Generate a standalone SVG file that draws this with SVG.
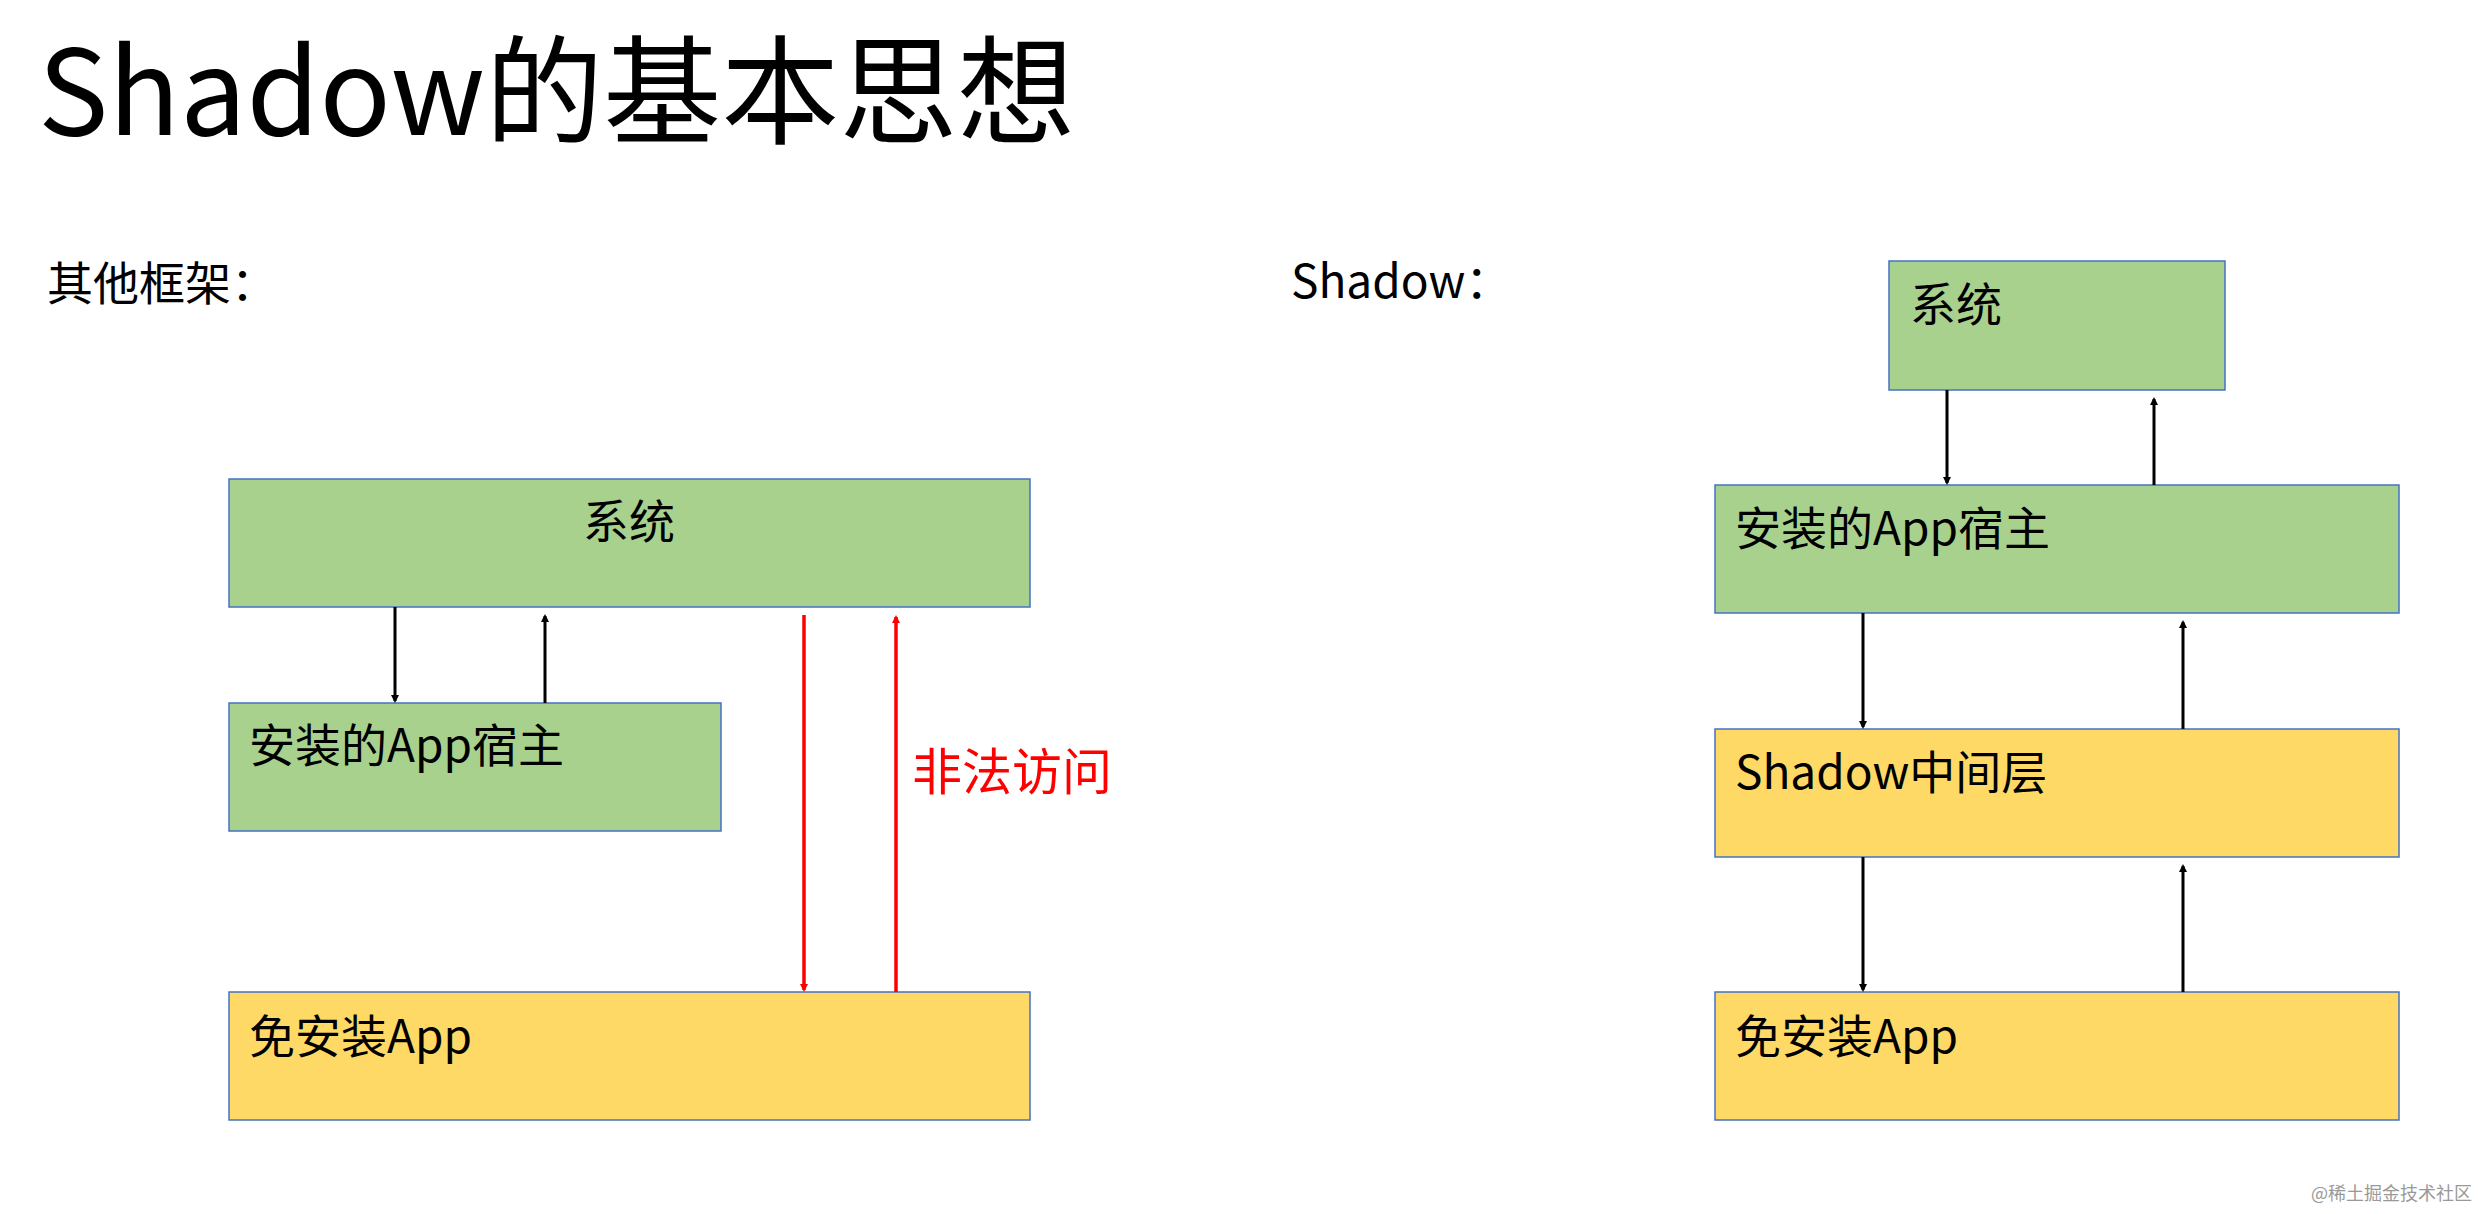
<svg xmlns="http://www.w3.org/2000/svg" width="2478" height="1214" viewBox="0 0 2478 1214">
<style>
text{font-family:"Noto Sans CJK SC","Noto Sans",sans-serif;fill:#000}
.g{fill:#A9D18E;stroke:#4472C4;stroke-width:1.5}
.y{fill:#FFD966;stroke:#4472C4;stroke-width:1.5}
.t{font-size:46px}
.k{stroke:#000;stroke-width:3;fill:none}
.r{stroke:#FF0000;stroke-width:3.5;fill:none}
</style>
<defs>
<marker id="ak" markerWidth="8" markerHeight="8" refX="6" refY="4" orient="auto" markerUnits="userSpaceOnUse" viewBox="0 0 8 8"><path d="M0,0L8,4L0,8z" fill="#000"/></marker>
<marker id="ar" markerWidth="8" markerHeight="8" refX="6" refY="4" orient="auto" viewBox="0 0 8 8" markerUnits="userSpaceOnUse"><path d="M0,0L8,4L0,8z" fill="#FF0000"/></marker>
</defs>
<rect width="2478" height="1214" fill="#fff"/>
<text x="38" y="135" font-size="118">Shadow的基本思想</text>
<text x="47" y="300" font-size="46">其他框架：</text>
<text x="1291" y="298" font-size="46">Shadow：</text>
<g id="l-sys"><rect class="g" x="229" y="479" width="801" height="128"/><text class="t" x="629" y="538" text-anchor="middle">系统</text></g>
<g id="l-host"><rect class="g" x="229" y="703" width="492" height="128"/><text class="t" x="249" y="762">安装的App宿主</text></g>
<g id="l-app"><rect class="y" x="229" y="992" width="801" height="128"/><text class="t" x="249" y="1053">免安装App</text></g>
<g id="r-sys"><rect class="g" x="1889" y="261" width="336" height="129"/><text class="t" x="1910" y="321">系统</text></g>
<g id="r-host"><rect class="g" x="1715" y="485" width="684" height="128"/><text class="t" x="1735" y="545">安装的App宿主</text></g>
<g id="r-shadow"><rect class="y" x="1715" y="729" width="684" height="128"/><text class="t" x="1735" y="789">Shadow中间层</text></g>
<g id="r-app"><rect class="y" x="1715" y="992" width="684" height="128"/><text class="t" x="1735" y="1053">免安装App</text></g>
<g id="connectors">
<line class="k" x1="395" y1="607" x2="395" y2="701" marker-end="url(#ak)"/>
<line class="k" x1="545" y1="703" x2="545" y2="616" marker-end="url(#ak)"/>
<line class="r" x1="804" y1="615" x2="804" y2="990" marker-end="url(#ar)"/>
<line class="r" x1="896" y1="992" x2="896" y2="617" marker-end="url(#ar)"/>
<line class="k" x1="1947" y1="390" x2="1947" y2="483" marker-end="url(#ak)"/>
<line class="k" x1="2154" y1="485" x2="2154" y2="399" marker-end="url(#ak)"/>
<line class="k" x1="1863" y1="613" x2="1863" y2="727" marker-end="url(#ak)"/>
<line class="k" x1="2183" y1="729" x2="2183" y2="622" marker-end="url(#ak)"/>
<line class="k" x1="1863" y1="857" x2="1863" y2="990" marker-end="url(#ak)"/>
<line class="k" x1="2183" y1="992" x2="2183" y2="866" marker-end="url(#ak)"/>
</g>
<text x="912" y="790" font-size="50" style="fill:#FF0000">非法访问</text>
<text x="2311" y="1200" font-size="18" style="fill:#999">@稀土掘金技术社区</text>
</svg>
